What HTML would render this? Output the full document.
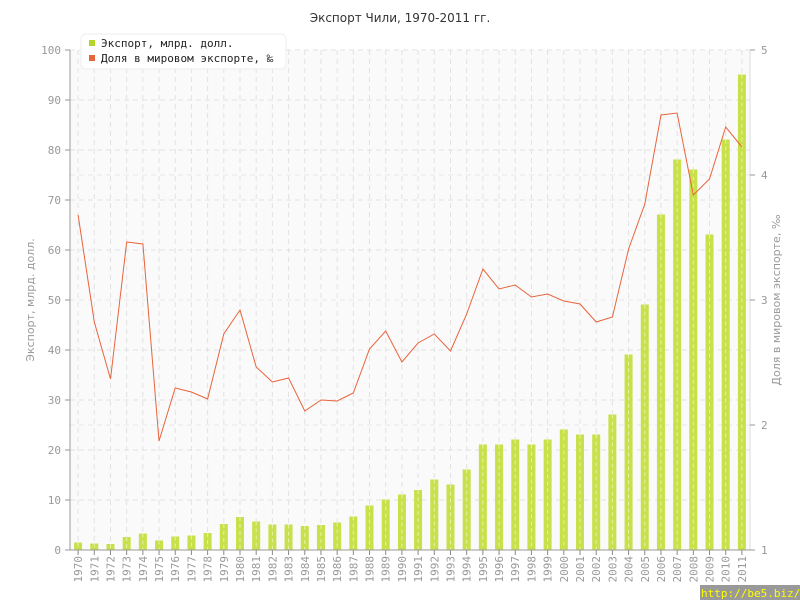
<!DOCTYPE html>
<html><head><meta charset="utf-8"><style>body{margin:0;background:#fff}svg{display:block}text{font-family:"DejaVu Sans","Liberation Sans",sans-serif}.m{font-family:"DejaVu Sans Mono","Liberation Mono",monospace}</style></head>
<body>
<svg id="s" width="800" height="600" xmlns="http://www.w3.org/2000/svg">
<rect x="70" y="50" width="680" height="500" fill="#fafafa"/>
<text x="400" y="22" text-anchor="middle" font-size="12" fill="#333">Экспорт Чили, 1970-2011 гг.</text>
<g id="g"></g>
<rect x="81" y="34" width="205" height="35" rx="5" fill="#fff" stroke="#eee"/>
<rect x="89" y="40" width="6" height="6" fill="#b5d52a"/>
<text class="m" x="101" y="47" font-size="11" fill="#222">Экспорт, млрд. долл.</text>
<rect x="89" y="55" width="6" height="6" fill="#e8643c"/>
<text class="m" x="101" y="62" font-size="11" fill="#222">Доля в мировом экспорте, ‰</text>
<text transform="translate(34,300) rotate(-90)" text-anchor="middle" font-size="11" fill="#999">Экспорт, млрд. долл.</text>
<text transform="translate(780,300) rotate(-90)" text-anchor="middle" font-size="11" fill="#999">Доля в мировом экспорте, ‰</text>
<rect x="700" y="585" width="100" height="15" fill="#999"/>
<text class="m" x="701" y="597" font-size="11" fill="#ff0">http://be5.biz/</text>
</svg>
<script>
var ex=[1.2,1.0,0.9,2.3,3.0,1.6,2.4,2.6,3.1,4.9,6.3,5.4,4.8,4.8,4.5,4.7,5.2,6.4,8.6,9.8,10.8,11.7,13.8,12.8,15.8,20.8,20.8,21.8,20.8,21.8,23.8,22.8,22.8,26.8,38.8,48.8,66.8,77.8,75.8,62.8,81.8,94.8];
var ly=[215,322,379,242,244,441,388,392,399,334,310,367,382,378,411,400,401,393,349,331,362,343,334,351,314,269,289,285,297,294,301,304,322,317,249,204,115,113,195,179,127,147];
var h='',w=680/42;
for(var v=10;v<=100;v+=10){var y=550-v*5;h+='<line x1="70" x2="750" y1="'+y+'" y2="'+y+'" stroke="#e2e2e2" stroke-dasharray="5,4"/>';}
[175,300,425].forEach(function(y){h+='<line x1="70" x2="750" y1="'+y+'" y2="'+y+'" stroke="#e8e8e8" stroke-dasharray="5,4"/>';});
for(var i=0;i<42;i++){var x=70+w*(i+0.5);
h+='<line x1="'+x+'" x2="'+x+'" y1="50" y2="550" stroke="#e2e2e2" stroke-dasharray="5,4"/>';}
for(var i=0;i<42;i++){var x=70+w*(i+0.5),bh=(ex[i]+0.3)*5;
h+='<rect x="'+(x-4)+'" y="'+(550-bh)+'" width="8" height="'+bh+'" fill="#c8e04a"/>';
h+='<line x1="'+x+'" x2="'+x+'" y1="'+(550-bh)+'" y2="550" stroke="#e6f2a8" stroke-dasharray="4,3"/>';
h+='<line x1="'+x+'" x2="'+x+'" y1="550" y2="555" stroke="#888"/>';
h+='<text class="m" transform="translate('+(x+4)+',556) rotate(-90)" text-anchor="end" font-size="11" fill="#999">'+(1970+i)+'</text>';}
var p=ly.map(function(y,i){return (70+w*(i+0.5)).toFixed(1)+','+y}).join(' ');
h+='<polyline points="'+p+'" fill="none" stroke="#e8643c" stroke-width="1"/>';
h+='<line x1="70" x2="70" y1="50" y2="550" stroke="#999"/><line x1="750" x2="750" y1="50" y2="550" stroke="#ddd"/><line x1="70" x2="755" y1="550" y2="550" stroke="#999"/>';
for(var v=0;v<=100;v+=10){var y=550-v*5;h+='<line x1="65" x2="70" y1="'+y+'" y2="'+y+'" stroke="#999"/><text class="m" x="61" y="'+(y+4)+'" text-anchor="end" font-size="11" fill="#999">'+v+'</text>';}
for(var v=1;v<=5;v++){var y=550-(v-1)*125;h+='<line x1="750" x2="755" y1="'+y+'" y2="'+y+'" stroke="#999"/><text class="m" x="761" y="'+(y+4)+'" font-size="11" fill="#999">'+v+'</text>';}
document.getElementById('g').innerHTML=h;
</script>
</body></html>
